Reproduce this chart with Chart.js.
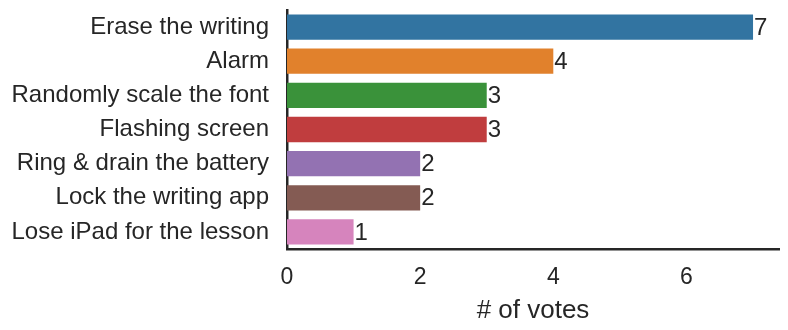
<!DOCTYPE html>
<html>
<head>
<meta charset="utf-8">
<script src="https://cdn.jsdelivr.net/npm/chart.js@4/dist/chart.umd.min.js"></script>
<style>
  html, body { margin: 0; padding: 0; background: #ffffff; }
  #wrap { width: 788px; height: 330px; position: relative; }
</style>
</head>
<body>
<div id="wrap"><canvas id="c" width="788" height="330"></canvas></div>
<script>
const categories = [
  "Erase the writing",
  "Alarm",
  "Randomly scale the font",
  "Flashing screen",
  "Ring & drain the battery",
  "Lock the writing app",
  "Lose iPad for the lesson"
];
const votes = [7, 4, 3, 3, 2, 2, 1];
const barColors = ["#3274a1", "#e1812c", "#3a923a", "#c03d3e", "#9372b2", "#845b53", "#d684bd"];
const xTicks = [0, 2, 4, 6];
const xTitle = "# of votes";

const FONT = "'Liberation Sans', Arial, Helvetica, sans-serif";
const TEXT = "#262626";

const valueLabels = {
  id: "valueLabels",
  afterDatasetsDraw(chart) {
    const ctx = chart.ctx;
    const meta = chart.getDatasetMeta(0);
    ctx.save();
    ctx.font = "24px " + FONT;
    ctx.fillStyle = TEXT;
    ctx.textAlign = "left";
    ctx.textBaseline = "middle";
    meta.data.forEach((el, i) => {
      ctx.fillText(String(chart.data.datasets[0].data[i]), el.x + 1, el.y + 1);
    });
    ctx.restore();
  }
};

new Chart(document.getElementById("c"), {
  type: "bar",
  data: {
    labels: categories,
    datasets: [{
      data: votes,
      backgroundColor: barColors,
      borderWidth: 0,
      barPercentage: 0.74,
      categoryPercentage: 1.0
    }]
  },
  options: {
    indexAxis: "y",
    responsive: false,
    animation: false,
    devicePixelRatio: 1,
    layout: { padding: { top: 10, right: 9, left: 0, bottom: 0 } },
    plugins: {
      legend: { display: false },
      tooltip: { enabled: false }
    },
    scales: {
      x: {
        type: "linear",
        min: 0,
        max: 7.39,
        afterBuildTicks(scale) { scale.ticks = xTicks.map(v => ({ value: v })); },
        afterFit(scale) {
          scale.height = 81;
          scale.paddingLeft = 0; scale.paddingRight = 0;
        },
        grid: { display: false, drawTicks: false },
        border: { display: true, color: TEXT, width: 2.5 },
        ticks: {
          color: TEXT,
          font: { family: FONT, size: 23 },
          padding: 15,
          maxRotation: 0
        },
        title: {
          display: true,
          text: xTitle,
          color: TEXT,
          font: { family: FONT, size: 26 },
          padding: { top: 0, bottom: 4 }
        }
      },
      y: {
        afterFit(scale) {
          scale.width = 287;
          scale.paddingTop = 0; scale.paddingBottom = 0;
        },
        grid: { display: false, drawTicks: false },
        border: { display: true, color: TEXT, width: 2.5 },
        ticks: {
          color: TEXT,
          font: { family: FONT, size: 24 },
          padding: 18
        }
      }
    }
  },
  plugins: [valueLabels]
});
</script>
</body>
</html>
